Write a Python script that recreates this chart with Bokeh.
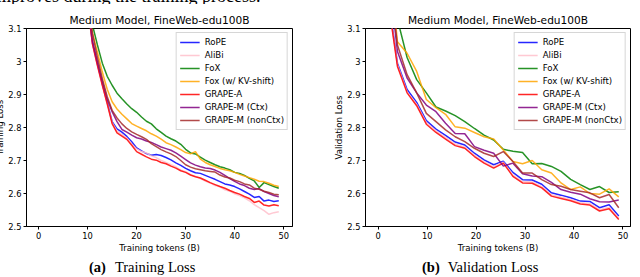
from bokeh.plotting import figure
from bokeh.models import Range1d, Legend, LegendItem, FixedTicker, Div
from bokeh.layouts import row, column
from bokeh.embed import file_html
from bokeh.resources import INLINE

series_names = ["RoPE", "AliBi", "FoX", "Fox (w/ KV-shift)", "GRAPE-A",
                "GRAPE-M (Ctx)", "GRAPE-M (nonCtx)"]
series_colors = ["#0000ff", "#ffc0cb", "#008000", "#ffa500", "#ff0000",
                 "#800080", "#a52a2a"]

title_text = "Medium Model, FineWeb-edu100B"
x_ticks = [0, 10, 20, 30, 40, 50]
y_ticks = [2.5, 2.6, 2.7, 2.8, 2.9, 3.0, 3.1]

# ---------------- training loss (left panel) ----------------
train_tokens = list(range(50))
train_rope = [10.9, 7.6, 6.1, 5.1, 4.45, 4.0, 3.7, 3.5, 3.36, 3.25, 3.175, 3.055, 2.993, 2.932, 2.876, 2.818, 2.796,
              2.786, 2.773, 2.757, 2.738, 2.729, 2.721, 2.716, 2.718, 2.715, 2.709, 2.702, 2.693, 2.685, 2.676, 2.669,
              2.663, 2.661, 2.655, 2.649, 2.643, 2.636, 2.629, 2.626, 2.621, 2.614, 2.606, 2.598, 2.588, 2.591, 2.577,
              2.58, 2.576, 2.578]
train_alibi = [10.9, 7.6, 6.1, 5.1, 4.45, 4.0, 3.7, 3.5, 3.36, 3.25, 3.172, 3.054, 2.99, 2.93, 2.872, 2.815, 2.789,
               2.779, 2.768, 2.75, 2.735, 2.727, 2.723, 2.714, 2.709, 2.70, 2.694, 2.687, 2.681, 2.671, 2.666, 2.657,
               2.652, 2.645, 2.638, 2.632, 2.624, 2.62, 2.611, 2.607, 2.599, 2.594, 2.587, 2.578, 2.566, 2.557, 2.548,
               2.537, 2.542, 2.545]
train_fox = [11.0, 7.9, 6.4, 5.4, 4.7, 4.2, 3.9, 3.65, 3.48, 3.33, 3.21, 3.11, 3.05, 2.995, 2.955, 2.928, 2.904,
             2.887, 2.871, 2.857, 2.846, 2.832, 2.819, 2.811, 2.796, 2.785, 2.774, 2.766, 2.759, 2.749, 2.734, 2.723,
             2.72, 2.71, 2.701, 2.694, 2.687, 2.681, 2.677, 2.672, 2.664, 2.661, 2.655, 2.646, 2.638, 2.618, 2.633,
             2.627, 2.621, 2.616]
train_fox_kv = [11.0, 7.8, 6.3, 5.3, 4.6, 4.1, 3.8, 3.58, 3.42, 3.28, 3.17, 3.085, 3.028, 2.968, 2.916, 2.878, 2.856,
                2.84, 2.826, 2.812, 2.804, 2.797, 2.79, 2.781, 2.774, 2.765, 2.754, 2.748, 2.741, 2.733, 2.724, 2.72,
                2.727, 2.704, 2.694, 2.687, 2.682, 2.676, 2.672, 2.669, 2.664, 2.658, 2.653, 2.648, 2.643, 2.637,
                2.636, 2.631, 2.625, 2.621]
train_grape_a = [10.9, 7.6, 6.1, 5.1, 4.45, 4.0, 3.7, 3.5, 3.36, 3.25, 3.17, 3.052, 2.988, 2.928, 2.872, 2.812, 2.784,
                 2.774, 2.764, 2.746, 2.727, 2.719, 2.711, 2.704, 2.701, 2.694, 2.690, 2.683, 2.677, 2.669, 2.664,
                 2.656, 2.651, 2.647, 2.64, 2.633, 2.627, 2.621, 2.616, 2.609, 2.603, 2.598, 2.591, 2.585, 2.573,
                 2.577, 2.565, 2.562, 2.566, 2.563]
train_grape_m_ctx = [10.95, 7.7, 6.2, 5.2, 4.5, 4.05, 3.75, 3.53, 3.38, 3.27, 3.185, 3.062, 2.998, 2.94, 2.886, 2.848,
                     2.818, 2.794, 2.786, 2.777, 2.769, 2.765, 2.759, 2.755, 2.748, 2.741, 2.736, 2.731, 2.723, 2.713,
                     2.703, 2.693, 2.686, 2.681, 2.677, 2.676, 2.671, 2.664, 2.655, 2.645, 2.637, 2.629, 2.624, 2.616,
                     2.612, 2.615, 2.606, 2.6, 2.594, 2.59]
train_grape_m_nonctx = [11.0, 7.75, 6.25, 5.25, 4.55, 4.08, 3.78, 3.56, 3.41, 3.3, 3.21, 3.085, 3.012, 2.948, 2.893,
                        2.852, 2.829, 2.811, 2.797, 2.787, 2.779, 2.772, 2.764, 2.751, 2.742, 2.733, 2.726, 2.72,
                        2.712, 2.7, 2.687, 2.68, 2.675, 2.672, 2.669, 2.667, 2.665, 2.656, 2.65, 2.647, 2.64, 2.636,
                        2.629, 2.626, 2.616, 2.613, 2.607, 2.603, 2.598, 2.596]

# ---------------- validation loss (right panel) ----------------
val_tokens = [0, 1.97, 3.93, 5.90, 7.86, 9.83, 11.80, 13.76, 15.73, 17.69, 19.66, 21.63, 23.59, 25.56, 27.52,
              29.49, 31.46, 33.42, 35.39, 37.35, 39.32, 41.29, 43.25, 45.22, 47.18, 49.15]
val_rope = [10.9, 3.2, 2.995, 2.915, 2.876, 2.821, 2.795, 2.776, 2.756, 2.747, 2.722, 2.702, 2.687, 2.698, 2.664,
            2.642, 2.641, 2.628, 2.602, 2.595, 2.587, 2.577, 2.576, 2.557, 2.566, 2.532]
val_alibi = [10.9, 3.19, 2.99, 2.908, 2.87, 2.815, 2.79, 2.77, 2.75, 2.74, 2.716, 2.696, 2.681, 2.695, 2.656, 2.636,
             2.635, 2.621, 2.596, 2.589, 2.582, 2.572, 2.569, 2.551, 2.558, 2.525]
val_fox = [11.0, 3.45, 3.128, 3.012, 2.945, 2.905, 2.862, 2.85, 2.836, 2.818, 2.797, 2.777, 2.762, 2.734, 2.728,
           2.724, 2.69, 2.691, 2.682, 2.667, 2.643, 2.627, 2.612, 2.621, 2.603, 2.605]
val_fox_kv = [11.0, 3.35, 3.06, 3.025, 2.97, 2.885, 2.86, 2.84, 2.802, 2.798, 2.785, 2.772, 2.765, 2.732, 2.697,
              2.69, 2.70, 2.672, 2.662, 2.632, 2.612, 2.62, 2.60, 2.598, 2.614, 2.59]
val_grape_a = [10.9, 3.19, 2.985, 2.905, 2.866, 2.810, 2.785, 2.765, 2.745, 2.737, 2.712, 2.692, 2.677, 2.692, 2.652,
               2.632, 2.631, 2.617, 2.592, 2.585, 2.578, 2.568, 2.565, 2.547, 2.554, 2.521]
val_grape_m_ctx = [11.0, 3.29, 3.03, 2.95, 2.905, 2.868, 2.848, 2.813, 2.782, 2.781, 2.742, 2.731, 2.722, 2.683,
                   2.692, 2.66, 2.653, 2.651, 2.634, 2.612, 2.604, 2.598, 2.584, 2.575, 2.574, 2.58]
val_grape_m_nonctx = [11.0, 3.3, 3.05, 2.96, 2.905, 2.843, 2.818, 2.793, 2.772, 2.757, 2.737, 2.722, 2.712, 2.727,
                      2.697, 2.662, 2.662, 2.642, 2.627, 2.622, 2.612, 2.607, 2.602, 2.587, 2.597, 2.557]

train_series = [train_rope, train_alibi, train_fox, train_fox_kv, train_grape_a, train_grape_m_ctx,
                train_grape_m_nonctx]
val_series = [val_rope, val_alibi, val_fox, val_fox_kv, val_grape_a, val_grape_m_ctx, val_grape_m_nonctx]

FONT = "DejaVu Sans"
SERIF = "'Liberation Serif', serif"


def make_panel(xs, ys_list, ylabel, x_start, x_end, width, border_right):
    p = figure(width=width, height=251, x_range=Range1d(x_start, x_end), y_range=Range1d(2.5, 3.1),
               output_backend="svg", toolbar_location=None,
               min_border_left=31, min_border_right=border_right,
               min_border_top=24, min_border_bottom=28)
    p.title.text = title_text
    p.title.align = "center"
    p.title.text_font = FONT
    p.title.text_font_size = "10.6px"
    p.title.text_font_style = "normal"
    p.title.text_color = "black"
    p.title.standoff = 5
    p.xgrid.visible = False
    p.ygrid.visible = False
    p.outline_line_color = "black"
    p.outline_line_width = 1
    p.outline_line_alpha = 1
    p.background_fill_color = "white"
    p.border_fill_color = "white"
    for ax in (p.xaxis[0], p.yaxis[0]):
        ax.axis_line_color = "black"
        ax.major_tick_line_color = "black"
        ax.major_tick_in = 0
        ax.major_tick_out = 3
        ax.minor_tick_line_color = None
        ax.major_label_text_font = FONT
        ax.major_label_text_font_size = "8.3px"
        ax.major_label_text_color = "black"
        ax.major_label_standoff = 2
        ax.axis_label_text_font = FONT
        ax.axis_label_text_font_size = "8.6px"
        ax.axis_label_text_font_style = "normal"
        ax.axis_label_text_color = "black"
    p.xaxis[0].ticker = FixedTicker(ticks=x_ticks)
    p.yaxis[0].ticker = FixedTicker(ticks=y_ticks)
    p.yaxis[0].formatter.use_scientific = False
    p.xaxis[0].axis_label = "Training tokens (B)"
    p.xaxis[0].axis_label_standoff = 1
    p.yaxis[0].axis_label = ylabel
    p.yaxis[0].axis_label_standoff = 0

    items = []
    for name, color, ys in zip(series_names, series_colors, ys_list):
        r = p.line(xs, ys, line_color=color, line_width=1.5, line_alpha=0.85)
        items.append(LegendItem(label=name, renderers=[r]))
    legend = Legend(items=items, location="top_right")
    legend.label_text_font = FONT
    legend.label_text_font_size = "8.6px"
    legend.label_text_color = "black"
    legend.glyph_width = 20
    legend.glyph_height = 12
    legend.label_height = 12
    legend.label_standoff = 5
    legend.spacing = 1
    legend.padding = 3
    legend.margin = 4
    legend.border_line_color = "#cccccc"
    legend.border_line_alpha = 0.8
    legend.background_fill_alpha = 0.8
    p.add_layout(legend)
    return p


p1 = make_panel(train_tokens, train_series, "Training Loss", -2.47, 51.8, 339, 39)
p2 = make_panel(val_tokens, val_series, "Validation Loss", -2.6, 51.55, 301, 2)

top_div = Div(
    text=("<div style=\"position:relative; height:0px;\">"
          "<div style=\"font-family:" + SERIF + "; font-size:18px; line-height:16px; white-space:nowrap; "
          "position:absolute; left:0px; top:-24px; color:black;\">improves during the training process.</div>"
          "</div>"),
    width=640, height=4, margin=(0, 0, 0, 0), styles={"overflow": "hidden"})

cap_a = Div(
    text=("<div style=\"font-family:" + SERIF + "; font-size:14.5px; line-height:16px; padding-top:4px; "
          "padding-left:97px; white-space:nowrap; color:black;\"><b>(a)</b>"
          "<span style=\"margin-left:9px\">Training Loss</span></div>"),
    width=339, height=22, margin=(0, 0, 0, 0))
cap_b = Div(
    text=("<div style=\"font-family:" + SERIF + "; font-size:14.5px; line-height:16px; padding-top:4px; "
          "padding-left:91px; white-space:nowrap; color:black;\"><b>(b)</b>"
          "<span style=\"margin-left:8px\">Validation Loss</span></div>"),
    width=301, height=22, margin=(0, 0, 0, 0))

layout = column(top_div, row(p1, p2), row(cap_a, cap_b), margin=(0, 0, 0, -8))

open("out.html", "w").write(file_html(layout, INLINE))
